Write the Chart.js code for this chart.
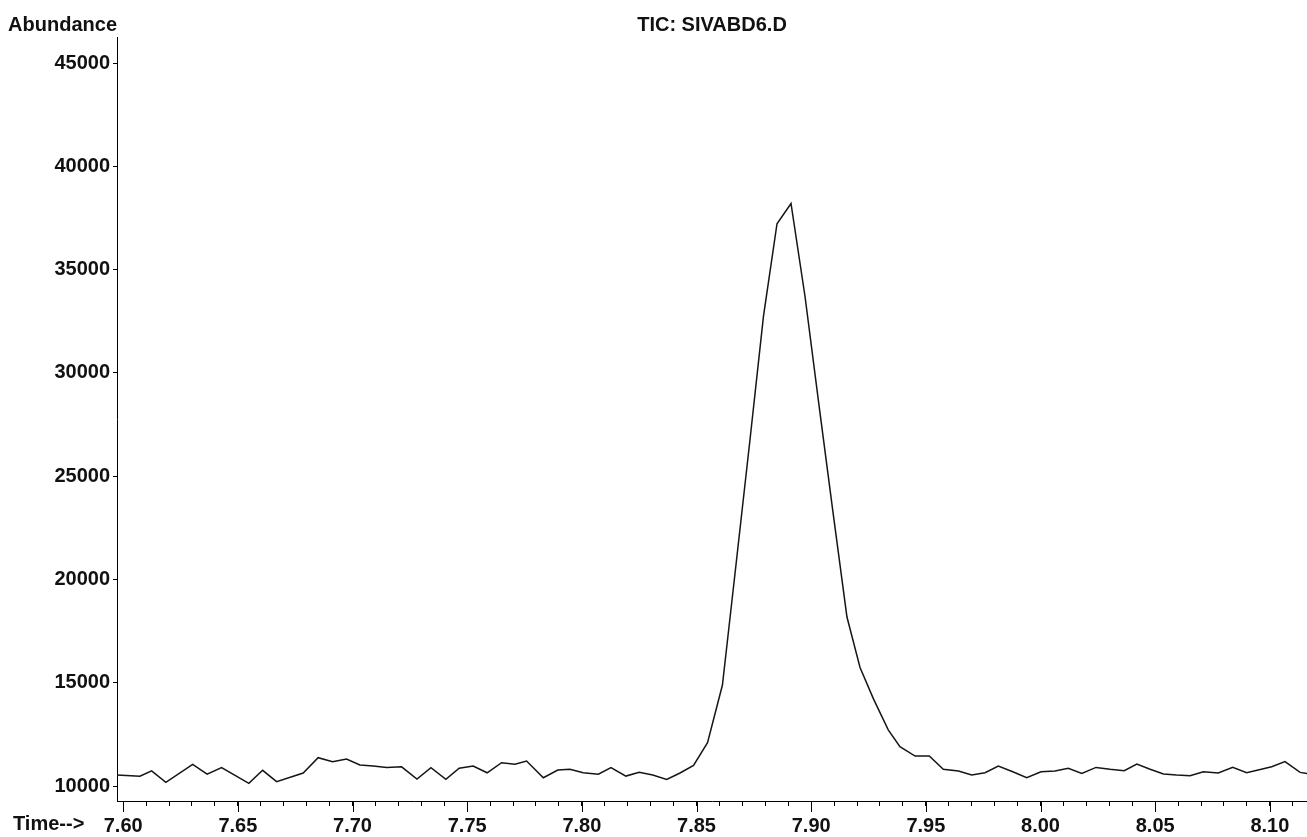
<!DOCTYPE html>
<html>
<head>
<meta charset="utf-8">
<title>TIC: SIVABD6.D</title>
<script src="https://cdn.jsdelivr.net/npm/chart.js"></script>
<style>
    html, body { margin: 0; padding: 0; background: #fff; }
    #wrap { width: 1307px; height: 837px; }
</style>
</head>
<body>
<div id="wrap"><canvas id="ticChart"></canvas></div>
<script>
// Thoi gian (phut) va do phong phu doc tu hinh
const times = [
    7.5973, 7.6073, 7.6124, 7.6186, 7.6303, 7.6366, 7.6429, 7.6548, 7.6608, 7.6669,
    7.6785, 7.6850, 7.6913, 7.6974, 7.7032, 7.7090, 7.7149, 7.7214, 7.7281, 7.7342,
    7.7407, 7.7465, 7.7526, 7.7587, 7.7650, 7.7708, 7.7759, 7.7832, 7.7895, 7.7948,
    7.8006, 7.8072, 7.8127, 7.8192, 7.8250, 7.8309, 7.8370, 7.8428, 7.8487, 7.8548,
    7.8613, 7.8672, 7.8733, 7.8792, 7.8851, 7.8912, 7.8973, 7.9034, 7.9095, 7.9156,
    7.9213, 7.9271, 7.9336, 7.9387, 7.9453, 7.9515, 7.9576, 7.9642, 7.9700, 7.9758,
    7.9816, 7.9879, 7.9940, 8.0002, 8.0063, 8.0121, 8.0180, 8.0242, 8.0303, 8.0365,
    8.0420, 8.0478, 8.0536, 8.0594, 8.0652, 8.0710, 8.0775, 8.0838, 8.0899, 8.1008,
    8.1066, 8.1132, 8.1162,
];
const abundance = [
    10530, 10470, 10730, 10180, 11050, 10570, 10890, 10130, 10760, 10210,
    10630, 11370, 11180, 11310, 11020, 10970, 10890, 10930, 10340, 10890,
    10320, 10860, 10970, 10640, 11130, 11050, 11210, 10400, 10770, 10810,
    10640, 10570, 10890, 10480, 10660, 10530, 10320, 10630, 11000, 12100,
    14890, 20700, 26750, 32750, 37220, 38200, 33710, 28440, 23260, 18180,
    15740, 14230, 12720, 11900, 11450, 11450, 10810, 10730, 10530, 10640,
    10970, 10690, 10400, 10690, 10730, 10860, 10610, 10900, 10810, 10740,
    11060, 10810, 10580, 10530, 10500, 10690, 10630, 10900, 10640, 10930,
    11180, 10660, 10610,
];
const yTicks = [10000, 15000, 20000, 25000, 30000, 35000, 40000, 45000];
const xLabels = ["7.60", "7.65", "7.70", "7.75", "7.80", "7.85", "7.90", "7.95", "8.00", "8.05", "8.10"];

document.addEventListener("DOMContentLoaded", function () {
    const FONT = "'Liberation Sans', Arial, sans-serif";
    Chart.defaults.font.family = FONT;
    Chart.defaults.font.size = 20;
    Chart.defaults.font.weight = "bold";
    Chart.defaults.color = "#111";

    const majorValues = xLabels.map((l) => parseFloat(l));
    // vach chia nho moi 0.01 phut
    const minorValues = [];
    for (let i = 760; i <= 811; i++) minorValues.push(i / 100);

    // vach chia lon + nhan "Abundance", "Time-->"
    const axisExtras = {
        id: "axisExtras",
        afterDraw(chart) {
            const ctx = chart.ctx;
            const x = chart.scales.x;
            const area = chart.chartArea;
            ctx.save();
            ctx.strokeStyle = "#000";
            ctx.lineWidth = 1;
            majorValues.forEach((v) => {
                const px = Math.round(x.getPixelForValue(v)) + 0.5;
                ctx.beginPath();
                ctx.moveTo(px, x.top);
                ctx.lineTo(px, x.top + 11);
                ctx.stroke();
            });
            ctx.fillStyle = "#111";
            ctx.font = "bold 20px " + FONT;
            ctx.textBaseline = "middle";
            ctx.textAlign = "right";
            ctx.fillText("Abundance", area.left, area.top - 12);
            ctx.textAlign = "left";
            ctx.fillText("Time-->", 13, x.top + 23.5);
            ctx.restore();
        },
    };

    const ctxTic = document.getElementById("ticChart").getContext("2d");
    new Chart(ctxTic, {
        type: "line",
        data: {
            datasets: [
                {
                    label: "TIC",
                    data: times.map((t, i) => ({ x: t, y: abundance[i] })),
                    borderColor: "#151515",
                    borderWidth: 1.5,
                    pointRadius: 0,
                    tension: 0,
                    fill: false,
                },
            ],
        },
        options: {
            responsive: true,
            maintainAspectRatio: false,
            animation: false,
            layout: { padding: 0 },
            scales: {
                x: {
                    type: "linear",
                    min: 7.5973,
                    max: 8.1162,
                    afterBuildTicks: (s) => {
                        s.ticks = minorValues.map((v) => ({ value: v }));
                    },
                    afterFit: (s) => {
                        s.height = 36;
                    },
                    grid: { drawOnChartArea: false, tickLength: 5, color: "#000" },
                    border: { display: true, color: "#000", width: 1 },
                    ticks: {
                        autoSkip: false,
                        maxRotation: 0,
                        padding: 8,
                        callback: function (value) {
                            const i = majorValues.findIndex((m) => Math.abs(m - value) < 1e-6);
                            return i >= 0 ? xLabels[i] : "";
                        },
                    },
                },
                y: {
                    min: 9274,
                    max: 46260,
                    afterBuildTicks: (s) => {
                        s.ticks = yTicks.map((v) => ({ value: v }));
                    },
                    afterFit: (s) => {
                        s.width = 117;
                    },
                    grid: { drawOnChartArea: false, tickLength: 4, color: "#000" },
                    border: { display: true, color: "#000", width: 1 },
                    ticks: {
                        padding: 3,
                        callback: function (value) {
                            return String(value);
                        },
                    },
                },
            },
            plugins: {
                legend: { display: false },
                tooltip: { enabled: false },
                title: {
                    display: true,
                    text: "TIC: SIVABD6.D",
                    fullSize: false,
                    color: "#111",
                    font: { size: 20, weight: "bold" },
                    padding: { top: 13, bottom: 0 },
                },
            },
        },
        plugins: [axisExtras],
    });
});
</script>
</body>
</html>
